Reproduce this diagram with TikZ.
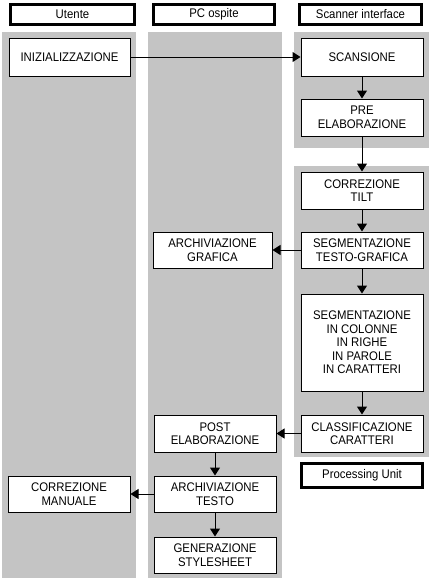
\documentclass[tikz,border=0pt]{standalone}
\usepackage{fontspec}
\setmainfont{Liberation Sans}[FakeStretch=0.91]
\usetikzlibrary{arrows.meta}
\definecolor{lanegray}{RGB}{196,196,196}
\tikzset{
  px/.style={x=1pt,y=-1pt},
  lane/.style={fill=lanegray,draw=none},
  proc/.style={draw=black,line width=1pt,fill=white,align=center,inner sep=0pt,
    font=\fontsize{12.5}{13.5}\selectfont},
  hdr/.style={draw=black,line width=3pt,fill=white,inner sep=0pt,
    font=\fontsize{12.5}{14}\selectfont},
  flow/.style={line width=1pt,-{Triangle[length=8pt,width=10pt]}}
}
\begin{document}
\begin{tikzpicture}[px]
\useasboundingbox (0,0) rectangle (429,581);
\fill[white] (0,0) rectangle (429,581);
% lanes
\path[lane] (2,32) rectangle (136,578);
\path[lane] (148,32) rectangle (282,578);
\path[lane] (294,32) rectangle (429,148);
\path[lane] (294,166) rectangle (429,457);
% headers
\node[hdr,minimum width=124pt,minimum height=20pt] (h1) at (72.5,14.5) {Utente};
\node[hdr,minimum width=121pt,minimum height=20pt] (h2) at (214,14.5) {PC ospite};
\node[hdr,minimum width=122pt,minimum height=20pt] (h3) at (360.5,14.5) {Scanner interface};
\node[hdr,minimum width=121pt,minimum height=24pt] (pu) at (362,475.5) {Processing Unit};
% process boxes
\node[proc,minimum width=121pt,minimum height=38pt] (iniz) at (69.5,57) {INIZIALIZZAZIONE};
\node[proc,minimum width=122pt,minimum height=38pt] (scan) at (362,57) {SCANSIONE};
\node[proc,minimum width=122pt,minimum height=37pt] (pre) at (362,117.5) {PRE\\ELABORAZIONE};
\node[proc,minimum width=122pt,minimum height=37pt] (tilt) at (362,190.5) {CORREZIONE\\TILT};
\node[proc,minimum width=119pt,minimum height=36pt] (archg) at (212.5,250) {ARCHIVIAZIONE\\GRAFICA};
\node[proc,minimum width=122pt,minimum height=36pt] (segtg) at (362,250) {SEGMENTAZIONE\\TESTO-GRAFICA};
\node[proc,minimum width=122pt,minimum height=97pt] (segm) at (362,342.5) {SEGMENTAZIONE\\IN COLONNE\\IN RIGHE\\IN PAROLE\\IN CARATTERI};
\node[proc,minimum width=122pt,minimum height=37pt] (class) at (362,433.5) {CLASSIFICAZIONE\\CARATTERI};
\node[proc,minimum width=122pt,minimum height=37pt] (post) at (215,433.5) {POST\\ELABORAZIONE};
\node[proc,minimum width=122pt,minimum height=36pt] (archt) at (215,494) {ARCHIVIAZIONE\\TESTO};
\node[proc,minimum width=122pt,minimum height=36pt] (corr) at (69,494) {CORREZIONE\\MANUALE};
\node[proc,minimum width=122pt,minimum height=36pt] (gen) at (215,555) {GENERAZIONE\\STYLESHEET};
% connectors
\draw[flow] (iniz) -- (scan);
\draw[flow] (scan) -- (pre);
\draw[flow] (pre) -- (tilt);
\draw[flow] (tilt) -- (segtg);
\draw[flow] (segtg) -- (archg);
\draw[flow] (segtg) -- (segm);
\draw[flow] (segm) -- (class);
\draw[flow] (class) -- (post);
\draw[flow] (post) -- (archt);
\draw[flow] (archt) -- (corr);
\draw[flow] (archt) -- (gen);
\end{tikzpicture}
\end{document}
